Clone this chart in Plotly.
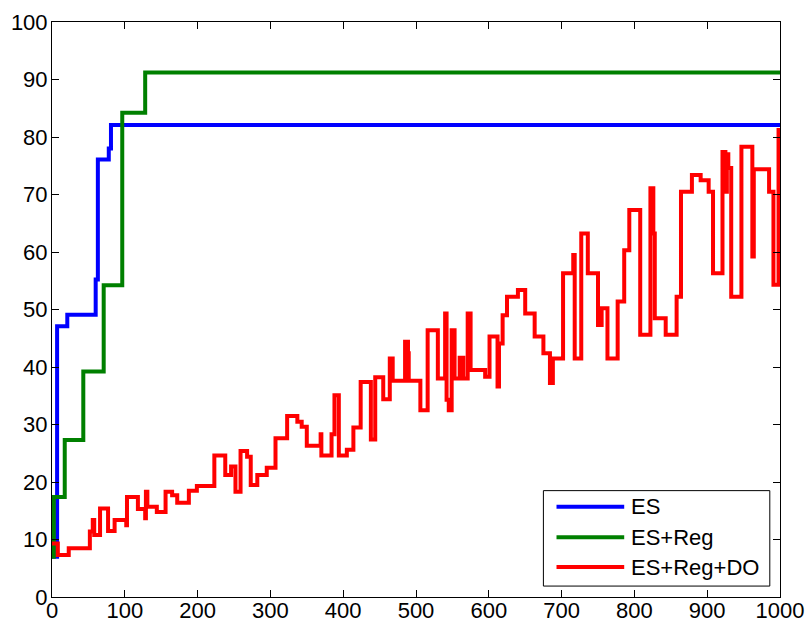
import plotly.graph_objects as go

# Step-wise accuracy traces over 1000 iterations
es_x = [0, 7, 21, 60, 63, 78, 81, 1000]
es_y = [7.0, 47.1, 49.1, 55.2, 76.1, 78.0, 82.1, 82.1]

es_reg_x = [0, 2.5, 17.5, 43, 71, 96.5, 128, 1000]
es_reg_y = [7.0, 17.4, 27.3, 39.2, 54.2, 84.2, 91.2, 91.2]

es_reg_do_x = [
    0, 8, 23, 52, 56, 58, 66, 77, 86, 102, 103, 118, 128, 129, 131, 144,
    156, 165, 172, 188, 199, 223, 238, 246, 252, 259, 268, 273, 282, 295,
    307, 323, 337, 343, 350, 369, 370, 384, 388, 394, 405, 414, 424, 438,
    444, 455, 464, 468, 485, 489, 490, 506, 516, 530, 540, 542, 545, 549,
    553, 560, 565, 571, 575, 595, 601, 612, 614, 619, 625, 640, 650, 663,
    675, 684, 688, 702, 716, 718, 727, 736, 750, 755, 763, 777, 786, 793,
    808, 822, 826, 828, 843, 858, 864, 879, 891, 902, 908, 921, 925, 927,
    929, 933, 947, 962, 964, 985, 991, 998, 1000,
]
es_reg_do_y = [
    9.3, 7.3, 8.5, 11.4, 13.4, 10.8, 15.4, 11.5, 13.4, 12.5, 17.4, 15.3, 13.7, 18.3, 15.7, 14.8,
    18.3, 17.7, 16.4, 18.5, 19.3, 24.6, 21.2, 22.7, 18.3, 25.4, 24.4, 19.5, 21.2, 22.5,
    27.6, 31.5, 30.5, 29.6, 26.3, 28.3, 24.6, 28.3, 35.1, 24.6, 25.6, 29.5, 37.4, 27.4,
    38.2, 34.4, 41.5, 37.6, 44.4, 42.4, 37.6, 32.5, 46.4, 38.0, 49.3, 34.3, 32.5, 46.4,
    38.0, 41.6, 38.0, 49.3, 39.5, 38.3, 45.3, 36.6, 44.1, 49.0, 52.2, 53.4, 49.3, 45.3,
    42.4, 37.2, 41.5, 56.3, 59.5, 41.5, 63.2, 56.3, 47.3, 50.2, 41.5, 51.4, 60.3, 67.3,
    45.6, 71.1, 63.2, 48.5, 45.6, 52.2, 70.5, 73.4, 72.5, 70.5, 56.3, 77.4, 70.5, 77.0,
    74.6, 52.2, 78.3, 59.2, 74.4, 70.5, 54.3, 81.2, 81.2,
]

x_ticks = list(range(0, 1001, 100))
y_ticks = list(range(0, 101, 10))

series = [
    ("ES", es_x, es_y, "#0000ff"),
    ("ES+Reg", es_reg_x, es_reg_y, "#008000"),
    ("ES+Reg+DO", es_reg_do_x, es_reg_do_y, "#ff0000"),
]

FONT = "Liberation Sans, Arial"
FONT_SIZE = 22

fig = go.Figure()
for name, xs, ys, color in series:
    fig.add_trace(go.Scatter(
        x=xs, y=ys, name=name, mode="lines", showlegend=False,
        line=dict(color=color, width=4, shape="hv"),
    ))

axis_style = dict(
    showgrid=False, zeroline=False, showline=True, linecolor="black",
    linewidth=1, mirror="ticks", ticks="inside", ticklen=7,
    tickcolor="black", tickwidth=1, automargin=False,
    tickfont=dict(family=FONT, size=FONT_SIZE, color="black"),
)

fig.update_xaxes(range=[0, 1000], tickvals=x_ticks, ticklabelstandoff=-6,
                 **axis_style)
fig.update_yaxes(range=[0, 100], tickvals=y_ticks, ticklabelstandoff=-1,
                 **axis_style)

# Boxed legend in the lower-right corner with long line samples
shapes = [dict(
    type="rect", xref="paper", yref="paper",
    x0=0.675, x1=0.986, y0=0.019, y1=0.185,
    line=dict(color="black", width=1), fillcolor="white", layer="above",
)]
annotations = []
row_y = [0.157, 0.104, 0.052]
for (name, _, _, color), ry in zip(series, row_y):
    shapes.append(dict(
        type="line", xref="paper", yref="paper",
        x0=0.693, x1=0.786, y0=ry, y1=ry,
        line=dict(color=color, width=4), layer="above",
    ))
    annotations.append(dict(
        xref="paper", yref="paper", x=0.793, y=ry,
        xanchor="left", yanchor="middle", text=name, showarrow=False,
        font=dict(family=FONT, size=FONT_SIZE, color="black"),
    ))

fig.update_layout(
    width=808, height=624,
    margin=dict(l=52, r=28, t=22, b=27),
    paper_bgcolor="white", plot_bgcolor="white",
    shapes=shapes, annotations=annotations,
)

fig.write_html("out.html")
